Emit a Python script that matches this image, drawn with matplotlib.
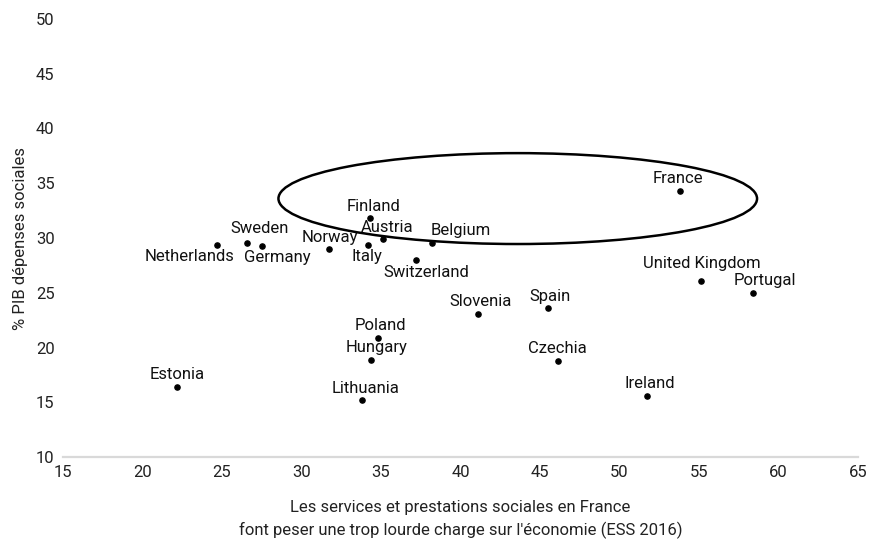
import matplotlib
matplotlib.use("Agg")
import matplotlib.pyplot as plt
from matplotlib.patches import Ellipse

plt.rcParams['font.family'] = ['Roboto', 'DejaVu Sans']

countries = ["Netherlands", "Sweden", "Germany", "Norway", "Finland", "Italy", "Austria",
             "Belgium", "Switzerland", "Slovenia", "Spain", "Poland", "Hungary", "Lithuania",
             "Czechia", "France", "United Kingdom", "Portugal", "Ireland", "Estonia"]
x_vals = [24.7, 26.6, 27.5, 31.7, 34.3, 34.2, 35.1, 38.2, 37.2, 41.1, 45.5, 34.8, 34.35,
          33.8, 46.1, 53.8, 55.1, 58.4, 51.7, 22.2]
y_vals = [29.4, 29.5, 29.3, 28.95, 31.8, 29.4, 29.9, 29.5, 28.0, 23.1, 23.6, 20.9, 18.9,
          15.25, 18.8, 34.3, 26.1, 25.0, 15.6, 16.4]

x_ticks = [15, 20, 25, 30, 35, 40, 45, 50, 55, 60, 65]
y_ticks = [10, 15, 20, 25, 30, 35, 40, 45, 50]

# label offsets from the dot, in pixels (dx right, dy up), text centred
offsets = {
    "Netherlands": (-28, -12),
    "Sweden": (12, 15),
    "Germany": (16, -12),
    "Norway": (1, 12),
    "Finland": (3.5, 12),
    "Italy": (-1, -12),
    "Austria": (5, 12),
    "Belgium": (29, 13),
    "Switzerland": (10, -13),
    "Slovenia": (2.5, 12),
    "Spain": (2, 12),
    "Poland": (2.5, 12.5),
    "Hungary": (6, 12),
    "Lithuania": (3.5, 11.5),
    "Czechia": (0, 12),
    "France": (-2, 12.5),
    "United Kingdom": (1.7, 17.5),
    "Portugal": (12, 12),
    "Ireland": (3, 12.5),
    "Estonia": (0, 12),
}

fig = plt.figure(figsize=(8.75, 5.44), dpi=100)
ax = fig.add_axes([0.072, 0.1599, 0.9086, 0.8052])

ax.scatter(x_vals, y_vals, s=14, color='black', zorder=3)
for name, xv, yv in zip(countries, x_vals, y_vals):
    dx, dy = offsets[name]
    ax.annotate(name, (xv, yv), xytext=(dx, dy), textcoords='offset pixels',
                ha='center', va='center', fontsize=12, color='#111111')

ell = Ellipse((43.6, 33.6), width=30.1, height=8.3, fill=False, edgecolor='black', lw=1.8, zorder=4)
ax.add_patch(ell)

ax.set_xlim(15, 65)
ax.set_ylim(10, 50)
ax.set_xticks(x_ticks)
ax.set_yticks(y_ticks)
for s in ax.spines.values():
    s.set_visible(False)
ax.axhline(10, color='#d9d9d9', lw=1.6, zorder=1, clip_on=False)
ax.tick_params(axis='both', length=0, labelsize=12, colors='#222222')
ax.tick_params(axis='y', pad=19.5)
for lbl in ax.get_yticklabels():
    lbl.set_horizontalalignment('left')
ax.tick_params(axis='x', pad=6)
ax.set_ylabel("% PIB dépenses sociales", fontsize=12, color='#222222', labelpad=6)
ax.set_xlabel("Les services et prestations sociales en France\nfont peser une trop lourde charge sur l'économie (ESS 2016)",
              fontsize=12, color='#222222', labelpad=14, linespacing=1.55)

fig.savefig("out.png", dpi=100)
